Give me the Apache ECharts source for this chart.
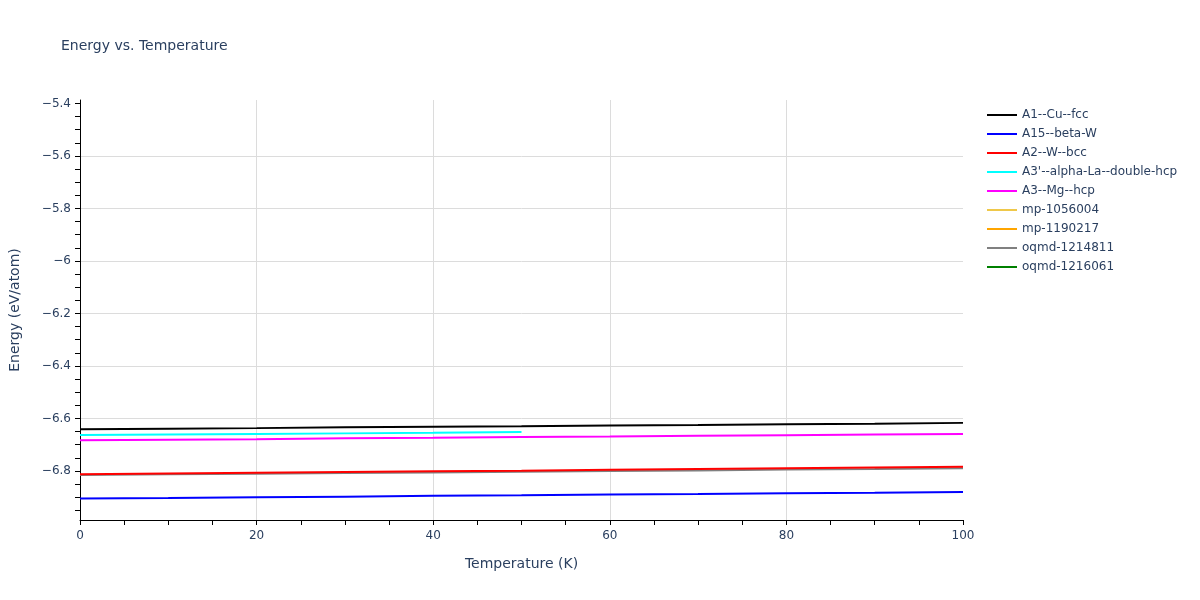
<!DOCTYPE html>
<html>
<head>
<meta charset="utf-8">
<script src="https://cdn.jsdelivr.net/npm/echarts@6/dist/echarts.min.js"></script>
<style>html,body{margin:0;padding:0;background:#fff}#c{width:1200px;height:600px}</style>
</head>
<body>
<div id="c"></div>
<script>
const temps = [0, 10, 20, 30, 40, 50, 60, 70, 80, 90, 100];
const tempsShort = [0, 10, 20, 30, 40, 50];
const a1CuFcc = [-6.641, -6.639, -6.637, -6.634, -6.632, -6.630, -6.627, -6.625, -6.622, -6.620, -6.617];
const a15BetaW = [-6.905, -6.903, -6.900, -6.898, -6.895, -6.893, -6.890, -6.888, -6.885, -6.883, -6.880];
const a2WBcc = [-6.813, -6.810, -6.807, -6.804, -6.801, -6.799, -6.796, -6.793, -6.790, -6.787, -6.784];
const a3pAlphaLa = [-6.663, -6.661, -6.659, -6.657, -6.655, -6.652];
const a3MgHcp = [-6.683, -6.681, -6.679, -6.676, -6.674, -6.671, -6.669, -6.666, -6.664, -6.661, -6.659];
const mp1056004 = [];
const mp1190217 = [];
const oqmd1214811 = [-6.816, -6.813, -6.811, -6.808, -6.806, -6.803, -6.800, -6.798, -6.795, -6.793, -6.790];
const oqmd1216061 = [];
const yMajorTicks = [-6.8, -6.6, -6.4, -6.2, -6.0, -5.8, -5.6, -5.4];
const yMinorTicks = [-6.95, -6.9, -6.85, -6.8, -6.75, -6.7, -6.65, -6.6, -6.55, -6.5, -6.45, -6.4, -6.35, -6.3, -6.25, -6.2, -6.15, -6.1, -6.05, -6.0, -5.95, -5.9, -5.85, -5.8, -5.75, -5.7, -5.65, -5.6, -5.55, -5.5, -5.45, -5.4];

const names = ['A1--Cu--fcc','A15--beta-W','A2--W--bcc',"A3'--alpha-La--double-hcp",'A3--Mg--hcp','mp-1056004','mp-1190217','oqmd-1214811','oqmd-1216061'];
const colors = ['#000000','#0000ff','#ff0000','#00ffff','#ff00ff','#efc84a','#ffa500','#808080','#008000'];
const xs = [temps, temps, temps, tempsShort, temps, temps, temps, temps, temps];
const ys = [a1CuFcc, a15BetaW, a2WBcc, a3pAlphaLa, a3MgHcp, mp1056004, mp1190217, oqmd1214811, oqmd1216061];
const drawOrder = [7, 8, 5, 6, 0, 1, 2, 3, 4];

const txt = '#2a3f5f';
const font = '"DejaVu Sans", Verdana, sans-serif';
const fmt = v => String(Math.round(v * 10) / 10).replace('-', '\u2212');

const series = names.map((n, i) => ({
  name: n,
  type: 'line',
  symbol: 'none',
  showSymbol: false,
  z: 2 + drawOrder.indexOf(i),
  lineStyle: { color: colors[i], width: 2 },
  itemStyle: { color: colors[i] },
  data: ys[i].map((v, k) => [xs[i][k], v])
}));

const chart = echarts.init(document.getElementById('c'));
chart.setOption({
  animation: false,
  backgroundColor: '#fff',
  title: {
    text: 'Energy vs. Temperature',
    left: 56, top: 34,
    textStyle: { color: txt, fontFamily: font, fontSize: 14, fontWeight: 'normal' }
  },
  legend: {
    orient: 'vertical',
    left: 982, top: 103,
    itemWidth: 30, itemHeight: 14, itemGap: 5,
    icon: 'path://M0,0H30V2H0Z',
    textStyle: { color: txt, fontFamily: font, fontSize: 12, lineHeight: 14 },
    data: names
  },
  grid: { left: 80, right: 237, top: 100, bottom: 80 },
  xAxis: {
    type: 'value',
    min: 0, max: 100, interval: 20,
    name: 'Temperature (K)',
    nameLocation: 'middle', nameGap: 37,
    nameTextStyle: { color: txt, fontFamily: font, fontSize: 14 },
    axisLine: { lineStyle: { color: '#000', width: 1 } },
    axisTick: { show: true, length: 5, lineStyle: { color: '#000' } },
    minorTick: { show: true, splitNumber: 4, length: 5, lineStyle: { color: '#000' } },
    axisLabel: { color: txt, fontFamily: font, fontSize: 12, margin: 10 },
    splitLine: { show: true, showMinLine: false, showMaxLine: false, lineStyle: { color: '#dcdcdc', width: 1 } }
  },
  yAxis: [{
    type: 'value',
    min: -6.987, max: -5.387,
    name: 'Energy (eV/atom)',
    nameLocation: 'middle', nameGap: 58,
    nameTextStyle: { color: txt, fontFamily: font, fontSize: 14 },
    axisLine: { show: true, lineStyle: { color: '#000', width: 1 } },
    axisTick: { show: true, length: 5, customValues: yMajorTicks, lineStyle: { color: '#000' } },
    axisLabel: { color: txt, fontFamily: font, fontSize: 12, margin: 9, customValues: yMajorTicks, formatter: fmt },
    splitLine: { show: true, showMinLine: false, showMaxLine: false, lineStyle: { color: '#dcdcdc', width: 1 } }
  }, {
    type: 'value',
    position: 'left',
    min: -6.987, max: -5.387,
    axisLine: { show: false },
    axisTick: { show: true, length: 5, customValues: yMinorTicks, lineStyle: { color: '#000' } },
    axisLabel: { show: false },
    splitLine: { show: false }
  }],
  series: series
});
</script>
</body>
</html>
